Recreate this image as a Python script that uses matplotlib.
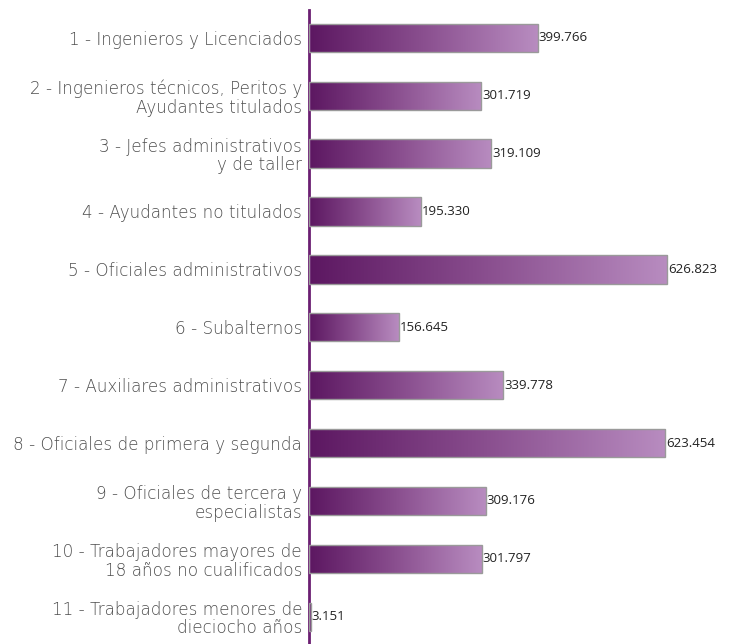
import numpy as np
import matplotlib
matplotlib.use("Agg")
from matplotlib import pyplot as plt
from matplotlib.colors import LinearSegmentedColormap

labels = ['1 - Ingenieros y Licenciados',
          '2 - Ingenieros técnicos, Peritos y\nAyudantes titulados',
          '3 - Jefes administrativos\ny de taller',
          '4 - Ayudantes no titulados',
          '5 - Oficiales administrativos',
          '6 - Subalternos',
          '7 - Auxiliares administrativos',
          '8 - Oficiales de primera y segunda',
          '9 - Oficiales de tercera y\nespecialistas',
          '10 - Trabajadores mayores de\n18 años no cualificados',
          '11 - Trabajadores menores de\ndieciocho años']
values = [399.766, 301.719, 319.109, 195.330, 626.823, 156.645,
          339.778, 623.454, 309.176, 301.797, 3.151]

cmap = LinearSegmentedColormap.from_list('purp', ['#5c1761', '#8a4f8f', '#b88cc0'])
grad = np.linspace(0, 1, 256).reshape(1, -1)

fig = plt.figure(figsize=(7.32, 6.44), dpi=100)
ax = fig.add_axes([309 / 732, 0, 1 - 309 / 732, 634 / 644])

bar_h = 0.49
for i, v in enumerate(values):
    bars = ax.barh(i, v, height=bar_h, facecolor='none', edgecolor='#9a9a9a', linewidth=1.0, zorder=3)
    im = ax.imshow(grad, cmap=cmap, aspect='auto', zorder=2,
                   extent=[0, v, i + bar_h / 2, i - bar_h / 2])
    im.set_clip_path(bars[0])
    ax.text(v + 1.5, i, f'{v:.3f}', va='center', ha='left', fontsize=9.5,
            family='Open Sans', color='#222222')

ax.set_xlim(0, 740)
ax.set_ylim(10.47, -0.48)
ax.set_yticks(range(len(labels)))
ax.set_yticklabels(labels, fontsize=12.1, family='DejaVu Sans', fontweight='light',
                   color='#4d4d4d', linespacing=1.05)
ax.tick_params(axis='y', length=0, pad=5)
ax.set_xticks([])
for s in ['top', 'right', 'bottom']:
    ax.spines[s].set_visible(False)
ax.spines['left'].set_color('#6b1f72')
ax.spines['left'].set_linewidth(2)

fig.savefig('out.png', dpi=100)
